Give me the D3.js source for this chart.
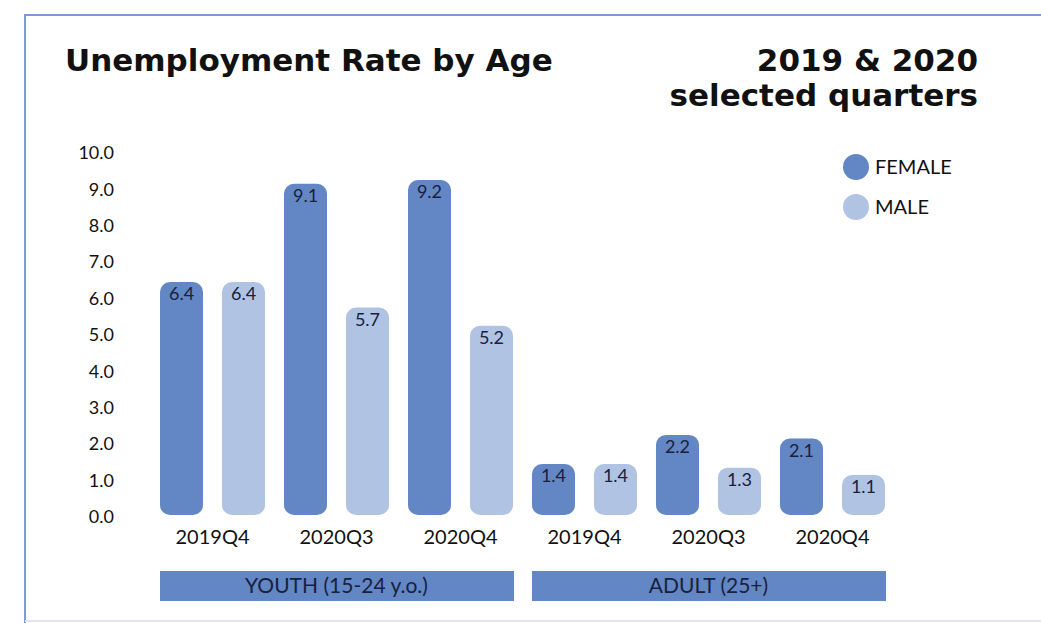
<!DOCTYPE html>
<html>
<head>
<meta charset="utf-8">
<script src="https://cdn.jsdelivr.net/npm/d3@7"></script>
<style>
  body { margin: 0; background: #fff; }
  svg { display: block; }
  text { font-family: "Lato", "Noto Sans", sans-serif; }
  .title { font-family: "DejaVu Sans", sans-serif; }
</style>
</head>
<body>
<div id="chart"></div>
<script>
// data
const groups = ["YOUTH (15-24 y.o.)", "ADULT (25+)"];
const quarters = ["2019Q4", "2020Q3", "2020Q4"];
const sexes = ["FEMALE", "MALE"];
const youthFemale = [6.4, 9.1, 9.2];
const youthMale = [6.4, 5.7, 5.2];
const adultFemale = [1.4, 2.2, 2.1];
const adultMale = [1.4, 1.3, 1.1];
const yTicks = [0, 1, 2, 3, 4, 5, 6, 7, 8, 9, 10];

const seriesByGroup = [
    { FEMALE: youthFemale, MALE: youthMale },
    { FEMALE: adultFemale, MALE: adultMale }
];

// flatten into bars
const bars = [];
groups.forEach((g, gi) => {
    quarters.forEach((q, qi) => {
        sexes.forEach(s => {
            bars.push({ group: g, quarter: q, sex: s, key: `${gi}-${q}-${s}`, value: seriesByGroup[gi][s][qi] });
        });
    });
});

const width = 1041, height = 623;
const color = d3.scaleOrdinal().domain(sexes).range(["#6386c4", "#b0c3e3"]);

const svg = d3.select("#chart").append("svg")
    .attr("width", width)
    .attr("height", height);

// frame
svg.append("path")
    .attr("d", `M25,${height} L25,15 L${width},15`)
    .attr("fill", "none")
    .attr("stroke", "#7e99d5")
    .attr("stroke-width", 2);
svg.append("line")
    .attr("x1", 25).attr("x2", width)
    .attr("y1", 621).attr("y2", 621)
    .attr("stroke", "#dfe5f6")
    .attr("stroke-width", 2);

// titles
svg.append("text")
    .attr("class", "title")
    .attr("x", 65).attr("y", 71)
    .attr("font-size", 31).attr("font-weight", "bold")
    .attr("fill", "#111")
    .text("Unemployment Rate by Age");
svg.append("text")
    .attr("class", "title")
    .attr("x", 978).attr("y", 71)
    .attr("text-anchor", "end")
    .attr("font-size", 31).attr("font-weight", "bold")
    .attr("fill", "#111")
    .text("2019 & 2020");
svg.append("text")
    .attr("class", "title")
    .attr("x", 978).attr("y", 106)
    .attr("text-anchor", "end")
    .attr("font-size", 31).attr("font-weight", "bold")
    .attr("fill", "#111")
    .text("selected quarters");

// scales
const x = d3.scaleBand()
    .domain(bars.map(d => d.key))
    .range([160, 885])
    .paddingInner(0.306)
    .paddingOuter(0);

const y = d3.scaleLinear()
    .domain([0, 10])
    .range([515, 151]);

// y axis
const yAxis = svg.append("g")
    .attr("transform", "translate(114,2)")
    .call(d3.axisLeft(y).tickValues(yTicks).tickFormat(d3.format(".1f")).tickSize(0).tickPadding(0));
yAxis.select(".domain").remove();
yAxis.selectAll("text")
    .attr("font-size", 18)
    .attr("fill", "#111")
    .style("font-family", "Lato, sans-serif");

// bars
const r = 10;
svg.selectAll(".bar")
    .data(bars)
    .enter()
    .append("rect")
    .attr("class", "bar")
    .attr("x", d => x(d.key))
    .attr("y", d => y(d.value))
    .attr("width", x.bandwidth())
    .attr("height", d => y(0) - y(d.value))
    .attr("rx", r).attr("ry", r)
    .attr("fill", d => color(d.sex));

// value labels
svg.selectAll(".val")
    .data(bars)
    .enter()
    .append("text")
    .attr("class", "val")
    .attr("x", d => x(d.key) + x.bandwidth() / 2)
    .attr("y", d => y(d.value) + 18)
    .attr("text-anchor", "middle")
    .attr("font-size", 18)
    .attr("fill", "#18213d")
    .text(d => d.value.toFixed(1));

// quarter labels
groups.forEach((g, gi) => {
    quarters.forEach(q => {
        const x0 = x(`${gi}-${q}-FEMALE`);
        const x1 = x(`${gi}-${q}-MALE`) + x.bandwidth();
        svg.append("text")
            .attr("x", (x0 + x1) / 2)
            .attr("y", 544)
            .attr("text-anchor", "middle")
            .attr("font-size", 20)
            .attr("fill", "#111")
            .text(q);
    });

    // group band
    const gx0 = x(`${gi}-${quarters[0]}-FEMALE`);
    const gx1 = x(`${gi}-${quarters[quarters.length - 1]}-MALE`) + x.bandwidth();
    svg.append("rect")
        .attr("x", gx0)
        .attr("y", 571)
        .attr("width", gx1 - gx0 + 1)
        .attr("height", 30)
        .attr("fill", color("FEMALE"));
    svg.append("text")
        .attr("x", (gx0 + gx1) / 2)
        .attr("y", 593)
        .attr("text-anchor", "middle")
        .attr("font-size", 21)
        .attr("fill", "#18213d")
        .text(g);
});

// legend
const legend = svg.append("g").attr("transform", "translate(856,167)");
sexes.forEach((s, i) => {
    legend.append("circle")
        .attr("cx", 0).attr("cy", i * 40)
        .attr("r", 13)
        .attr("fill", color(s));
    legend.append("text")
        .attr("x", 19).attr("y", i * 40 + 7)
        .attr("font-size", 20)
        .attr("fill", "#111")
        .text(s);
});
</script>
</body>
</html>
